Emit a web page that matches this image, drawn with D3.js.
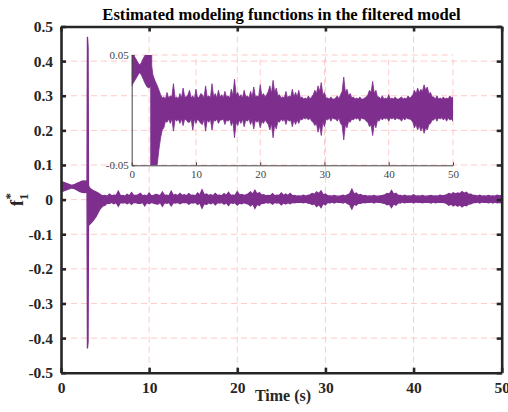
<!DOCTYPE html>
<html>
<head>
<meta charset="utf-8">
<script src="https://cdn.jsdelivr.net/npm/d3@7/dist/d3.min.js"></script>
<style>
  body { margin: 0; background: #fff; }
  text { font-family: "Liberation Serif", "Times New Roman", serif; }
</style>
</head>
<body>
<svg id="chart" width="508" height="412"></svg>
<script>
// envelope of f1* (upper / lower edge of the band)
const time = [0, 0.3, 0.6, 0.9, 1.2, 1.5, 1.8, 2.1, 2.4, 2.7, 2.95, 3.0, 3.07, 3.12, 3.3, 3.6,
  4, 4.25, 4.5, 4.75, 5, 5.25, 5.5, 5.75, 6, 6.25, 6.5, 6.75, 7, 7.25, 7.5, 7.75, 8, 8.25, 8.5, 8.75,
  9, 9.25, 9.5, 9.75, 10, 10.25, 10.5, 10.75, 11, 11.25, 11.5, 11.75, 12, 12.25, 12.5, 12.75,
  13, 13.25, 13.5, 13.75, 14, 14.25, 14.5, 14.75, 15, 15.25, 15.5, 15.75, 16, 16.25, 16.5, 16.75,
  17, 17.25, 17.5, 17.75, 18, 18.25, 18.5, 18.75, 19, 19.25, 19.5, 19.75, 20, 20.25, 20.5, 20.75,
  21, 21.25, 21.5, 21.75, 22, 22.25, 22.5, 22.75, 23, 23.25, 23.5, 23.75, 24, 24.25, 24.5, 24.75,
  25, 25.25, 25.5, 25.75, 26, 26.25, 26.5, 26.75, 27, 27.25, 27.5, 27.75, 28, 28.25, 28.5, 28.75,
  29, 29.25, 29.5, 29.75, 30, 30.25, 30.5, 30.75, 31, 31.25, 31.5, 31.75, 32, 32.25, 32.5, 32.75,
  33, 33.25, 33.5, 33.75, 34, 34.25, 34.5, 34.75, 35, 35.25, 35.5, 35.75, 36, 36.25, 36.5, 36.75,
  37, 37.25, 37.5, 37.75, 38, 38.25, 38.5, 38.75, 39, 39.25, 39.5, 39.75, 40, 40.25, 40.5, 40.75,
  41, 41.25, 41.5, 41.75, 42, 42.25, 42.5, 42.75, 43, 43.25, 43.5, 43.75, 44, 44.25, 44.5, 44.75,
  45, 45.25, 45.5, 45.75, 46, 46.25, 46.5, 46.75, 47, 47.25, 47.5, 47.75, 48, 48.25, 48.5, 48.75,
  49, 49.25, 49.5, 49.75, 50];
const upper = [0.052, 0.050, 0.047, 0.044, 0.041, 0.043, 0.047, 0.050, 0.053, 0.054, 0.052, 0.470, 0.440, 0.040, 0.032, 0.027,
  0.022, 0.018, 0.014, 0.011, 0.012, 0.010, 0.016, 0.011, 0.013, 0.012, 0.024, 0.011, 0.012, 0.010, 0.015, 0.011, 0.020, 0.012, 0.012, 0.014,
  0.018, 0.011, 0.013, 0.010, 0.019, 0.011, 0.012, 0.015, 0.014, 0.011, 0.022, 0.012, 0.013, 0.011, 0.024, 0.012,
  0.015, 0.011, 0.018, 0.012, 0.014, 0.011, 0.017, 0.012, 0.013, 0.011, 0.019, 0.013, 0.028, 0.014, 0.016, 0.012,
  0.014, 0.011, 0.018, 0.012, 0.013, 0.011, 0.017, 0.012, 0.021, 0.012, 0.013, 0.012, 0.023, 0.013, 0.015, 0.012,
  0.014, 0.017, 0.022, 0.015, 0.027, 0.016, 0.020, 0.013, 0.014, 0.011, 0.012, 0.011, 0.017, 0.011, 0.013, 0.012,
  0.019, 0.012, 0.016, 0.012, 0.018, 0.011, 0.012, 0.010, 0.011, 0.010, 0.013, 0.010, 0.012, 0.014, 0.018, 0.015,
  0.022, 0.017, 0.025, 0.014, 0.016, 0.011, 0.011, 0.010, 0.012, 0.010, 0.010, 0.011, 0.013, 0.010, 0.014, 0.017,
  0.030, 0.016, 0.019, 0.013, 0.015, 0.011, 0.012, 0.010, 0.011, 0.010, 0.012, 0.010, 0.010, 0.011, 0.012, 0.014,
  0.018, 0.016, 0.026, 0.015, 0.018, 0.012, 0.012, 0.010, 0.013, 0.010, 0.011, 0.010, 0.014, 0.010, 0.011, 0.010,
  0.012, 0.010, 0.010, 0.011, 0.012, 0.010, 0.011, 0.010, 0.013, 0.011, 0.012, 0.014, 0.018, 0.015, 0.020, 0.016,
  0.019, 0.017, 0.023, 0.018, 0.021, 0.015, 0.016, 0.012, 0.012, 0.010, 0.013, 0.010, 0.011, 0.010, 0.012, 0.010,
  0.011, 0.010, 0.013, 0.011, 0.012];
const lower = [0.022, 0.025, 0.028, 0.031, 0.034, 0.032, 0.028, 0.024, 0.021, 0.020, 0.022, -0.430, -0.410, -0.075, -0.070, -0.062,
  -0.048, -0.035, -0.025, -0.018, -0.016, -0.010, -0.011, -0.008, -0.012, -0.008, -0.019, -0.008, -0.010, -0.008, -0.012, -0.008, -0.014, -0.008, -0.009, -0.011,
  -0.011, -0.008, -0.018, -0.008, -0.012, -0.008, -0.010, -0.012, -0.013, -0.008, -0.019, -0.009, -0.011, -0.008, -0.018, -0.009,
  -0.010, -0.008, -0.012, -0.009, -0.009, -0.008, -0.013, -0.009, -0.010, -0.008, -0.014, -0.010, -0.025, -0.011, -0.014, -0.009,
  -0.012, -0.008, -0.015, -0.009, -0.010, -0.008, -0.013, -0.009, -0.017, -0.009, -0.011, -0.009, -0.016, -0.010, -0.012, -0.009,
  -0.011, -0.013, -0.018, -0.012, -0.025, -0.013, -0.017, -0.010, -0.011, -0.008, -0.010, -0.008, -0.013, -0.008, -0.010, -0.009,
  -0.015, -0.009, -0.013, -0.009, -0.012, -0.008, -0.009, -0.007, -0.008, -0.007, -0.009, -0.007, -0.010, -0.011, -0.014, -0.012,
  -0.020, -0.014, -0.023, -0.011, -0.015, -0.008, -0.009, -0.007, -0.010, -0.007, -0.008, -0.008, -0.010, -0.007, -0.012, -0.014,
  -0.027, -0.013, -0.016, -0.010, -0.011, -0.008, -0.009, -0.007, -0.008, -0.007, -0.010, -0.007, -0.008, -0.008, -0.010, -0.011,
  -0.015, -0.013, -0.023, -0.012, -0.016, -0.009, -0.010, -0.007, -0.009, -0.007, -0.008, -0.007, -0.010, -0.007, -0.008, -0.007,
  -0.009, -0.007, -0.008, -0.008, -0.010, -0.007, -0.009, -0.007, -0.008, -0.008, -0.009, -0.011, -0.016, -0.013, -0.018, -0.014,
  -0.019, -0.015, -0.021, -0.016, -0.018, -0.013, -0.012, -0.009, -0.009, -0.007, -0.010, -0.007, -0.008, -0.007, -0.009, -0.007,
  -0.010, -0.007, -0.009, -0.008, -0.010];

const xTicks = [0, 10, 20, 30, 40, 50];
const yTicks = [-0.5, -0.4, -0.3, -0.2, -0.1, 0, 0.1, 0.2, 0.3, 0.4, 0.5];
const insetYTicks = [-0.05, 0.05];

const data = time.map((t, i) => ({ t: t, hi: upper[i], lo: lower[i] }));

const purple = '#7E2F8E';
const gridColor = '#ffc9c9';
const axisColor = '#262626';
const serif = 'Liberation Serif, Times New Roman, serif';

const svg = d3.select('#chart');

function drawPanel (g, xs, ys, opts) {
  const [x0, x1] = xs.range();
  const [y0, y1] = ys.range();

  // dashed grid
  g.append('g').selectAll('line')
    .data(opts.xGrid).join('line')
    .attr('x1', d => xs(d)).attr('x2', d => xs(d))
    .attr('y1', y0).attr('y2', y1)
    .attr('stroke', gridColor).attr('stroke-width', 1)
    .attr('stroke-dasharray', '6,4');
  g.append('g').selectAll('line')
    .data(opts.yGrid).join('line')
    .attr('x1', x0).attr('x2', x1)
    .attr('y1', d => ys(d)).attr('y2', d => ys(d))
    .attr('stroke', gridColor).attr('stroke-width', 1)
    .attr('stroke-dasharray', '6,4');

  // band
  const clipId = opts.id + 'Clip';
  g.append('clipPath').attr('id', clipId)
    .append('rect')
    .attr('x', x0).attr('y', y1)
    .attr('width', x1 - x0).attr('height', y0 - y1);

  const band = d3.area()
    .x(d => xs(d.t))
    .y0(d => ys(d.lo))
    .y1(d => ys(d.hi));

  g.append('path')
    .attr('clip-path', `url(#${clipId})`)
    .attr('d', band(data))
    .attr('fill', purple)
    .attr('stroke', purple)
    .attr('stroke-width', opts.lineWidth)
    .attr('stroke-linejoin', 'miter');
}

function styleAxis (sel, width, size, weight, color) {
  sel.attr('font-family', null).attr('font-size', null);
  sel.select('.domain').attr('stroke', color).attr('stroke-width', width);
  sel.selectAll('.tick line').attr('stroke', color).attr('stroke-width', width);
  sel.selectAll('.tick text')
    .attr('fill', color)
    .style('font-family', serif)
    .style('font-size', size + 'px')
    .style('font-weight', weight);
}

// ---------- main axes ----------
const x = d3.scaleLinear().domain([0, 50]).range([61, 501.7]);
const y = d3.scaleLinear().domain([-0.5, 0.5]).range([372.7, 26.5]);

const main = svg.append('g');
drawPanel(main, x, y, {
  id: 'main',
  xGrid: [10, 20, 30, 40],
  yGrid: [-0.4, -0.3, -0.2, -0.1, 0, 0.1, 0.2, 0.3, 0.4],
  lineWidth: 1.3
});

const fmtY = d => d === 0 ? '0' : d.toFixed(1);

main.append('g')
  .attr('transform', `translate(0, ${y(-0.5)})`)
  .call(d3.axisBottom(x).tickValues(xTicks).tickSize(-5).tickSizeOuter(0).tickPadding(9).tickFormat(d3.format('d')))
  .call(styleAxis, 2.6, 15.5, 'bold', axisColor);

main.append('g')
  .attr('transform', `translate(${x(0)}, 0)`)
  .call(d3.axisLeft(y).tickValues(yTicks).tickSize(-5).tickSizeOuter(0).tickPadding(8).tickFormat(fmtY))
  .call(styleAxis, 2.6, 15.5, 'bold', axisColor);

main.append('g')
  .attr('transform', `translate(0, ${y(0.5)})`)
  .call(d3.axisTop(x).tickValues(xTicks).tickSize(-5).tickSizeOuter(0).tickFormat(''))
  .call(styleAxis, 2.6, 15.5, 'bold', axisColor);

main.append('g')
  .attr('transform', `translate(${x(50)}, 0)`)
  .call(d3.axisRight(y).tickValues(yTicks).tickSize(-5).tickSizeOuter(0).tickFormat(''))
  .call(styleAxis, 2.6, 15.5, 'bold', axisColor);

// title + labels
svg.append('text')
  .attr('x', 281.5).attr('y', 20)
  .attr('text-anchor', 'middle')
  .style('font-size', '16.6px').style('font-weight', 'bold')
  .attr('fill', '#000')
  .text('Estimated modeling functions in the filtered model');

svg.append('text')
  .attr('x', 283).attr('y', 401)
  .attr('text-anchor', 'middle')
  .style('font-size', '16px').style('font-weight', 'bold')
  .attr('fill', axisColor)
  .text('Time (s)');

const yLab = svg.append('text')
  .attr('transform', 'translate(23, 206) rotate(-90)')
  .style('font-size', '18px').style('font-weight', 'bold')
  .attr('fill', axisColor);
yLab.append('tspan').text('f');
yLab.append('tspan').attr('dy', 5).style('font-size', '13px').text('1');
yLab.append('tspan').attr('dx', -6).attr('dy', -14).style('font-size', '13px').text('*');

// ---------- inset ----------
const xi = d3.scaleLinear().domain([0, 50]).range([131.7, 453]);
const yi = d3.scaleLinear().domain([-0.05, 0.05]).range([165.3, 55]);

const inset = svg.append('g');
drawPanel(inset, xi, yi, {
  id: 'inset',
  xGrid: [10, 20, 30, 40, 50],
  yGrid: [0.05],
  lineWidth: 0.8
});

inset.append('g')
  .attr('transform', `translate(0, ${yi(-0.05)})`)
  .call(d3.axisBottom(xi).tickValues(xTicks).tickSize(-3).tickSizeOuter(0).tickPadding(5).tickFormat(d3.format('d')))
  .call(styleAxis, 1, 11, 'normal', '#444');

inset.append('g')
  .attr('transform', `translate(${xi(0)}, 0)`)
  .call(d3.axisLeft(yi).tickValues(insetYTicks).tickSize(-3).tickSizeOuter(0).tickPadding(3).tickFormat(d => d.toFixed(2)))
  .call(styleAxis, 1, 11, 'normal', '#444');
</script>
</body>
</html>
